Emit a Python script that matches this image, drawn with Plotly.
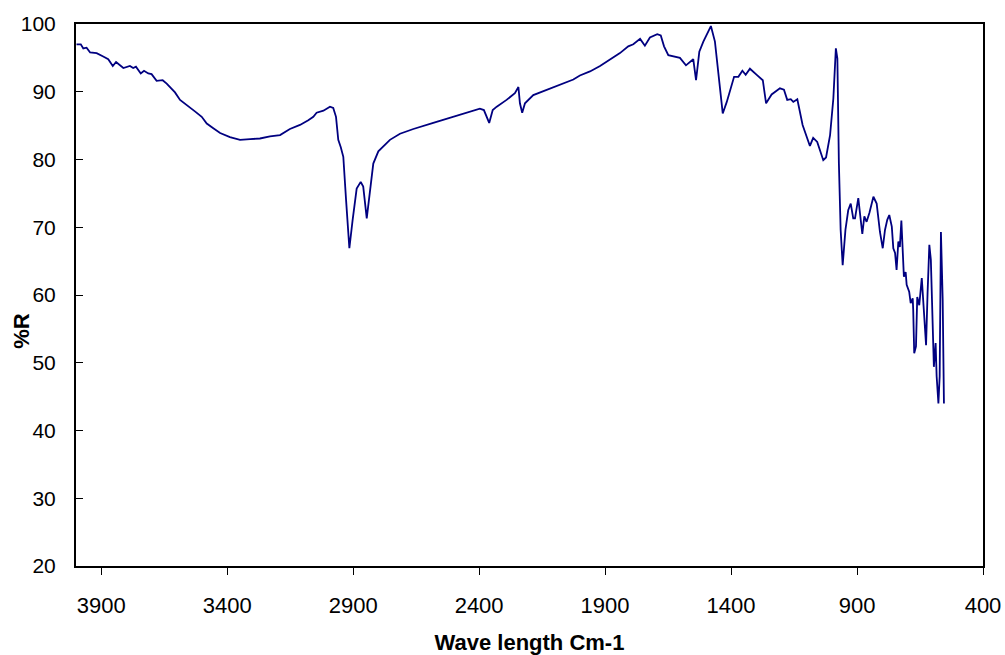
import plotly.graph_objects as go

# FTIR spectrum: wavenumber (cm-1) and reflectance (%R)
wavenumber = [
    3998, 3981, 3971, 3958, 3944, 3918, 3892, 3872, 3854, 3841,
    3812, 3786, 3773, 3762, 3743, 3730, 3713, 3700, 3680, 3656,
    3640, 3607, 3587, 3554, 3528, 3501, 3481, 3455, 3428, 3389,
    3349, 3309, 3270, 3230, 3190, 3151, 3111, 3078, 3058, 3045,
    3018, 2992, 2979, 2968, 2959, 2949, 2939, 2928, 2915, 2902,
    2886, 2870, 2860, 2846, 2833, 2820, 2800, 2780, 2754, 2714,
    2661, 2582, 2502, 2436, 2397, 2381, 2360, 2346, 2330, 2291,
    2258, 2244, 2238, 2229, 2218, 2185, 2106, 2026, 2000, 1960,
    1920, 1881, 1841, 1808, 1788, 1761, 1742, 1722, 1693, 1679,
    1666, 1649, 1623, 1603, 1579, 1563, 1550, 1539, 1526, 1510,
    1480, 1464, 1447, 1433, 1417, 1398, 1388, 1371, 1355, 1342,
    1325, 1298, 1274, 1261, 1239, 1206, 1190, 1177, 1163, 1153,
    1137, 1116, 1087, 1074, 1058, 1034, 1023, 1007, 994, 984,
    978, 972, 965, 957, 946, 935, 925, 915, 908, 895,
    879, 871, 862, 851, 835, 822, 809, 798, 789, 780,
    772, 762, 756, 749, 743, 736, 730, 724, 720, 714,
    707, 703, 693, 687, 679, 677, 673, 666, 661, 653,
    643, 637, 630, 626, 620, 613, 607, 601, 595, 588,
    584, 577, 572, 567, 560, 555,
]
reflectance = [
    97.0, 97.0, 96.4, 96.5, 95.8, 95.7, 95.2, 94.8, 93.8, 94.4,
    93.5, 93.8, 93.5, 93.7, 92.7, 93.1, 92.7, 92.6, 91.6, 91.7,
    91.2, 89.9, 88.8, 87.9, 87.1, 86.3, 85.3, 84.6, 83.9, 83.3,
    82.9, 83.0, 83.1, 83.4, 83.6, 84.5, 85.1, 85.8, 86.3, 86.9,
    87.2, 87.8, 87.6, 86.3, 82.9, 81.8, 80.4, 74.0, 66.9, 71.1,
    75.7, 76.7, 76.0, 71.3, 75.0, 79.4, 81.2, 82.0, 82.9, 83.8,
    84.5, 85.4, 86.3, 87.1, 87.5, 87.3, 85.4, 87.3, 87.8, 88.8,
    89.8, 90.7, 88.3, 86.9, 88.3, 89.5, 90.7, 91.8, 92.4, 93.0,
    93.8, 94.8, 95.7, 96.7, 97.0, 97.8, 96.8, 98.0, 98.5, 98.3,
    96.7, 95.4, 95.2, 95.0, 93.9, 94.4, 94.8, 91.7, 95.9, 97.4,
    99.7, 97.4, 92.0, 86.8, 88.5, 90.7, 92.2, 92.2, 93.1, 92.5,
    93.4, 92.5, 91.7, 88.3, 89.6, 90.5, 90.3, 88.8, 88.9, 88.5,
    88.9, 85.1, 82.0, 83.2, 82.6, 79.9, 80.3, 83.6, 89.0, 96.4,
    94.9, 79.4, 69.6, 64.4, 69.6, 72.5, 73.5, 71.3, 71.3, 74.3,
    69.0, 71.6, 70.8, 72.1, 74.5, 73.5, 69.3, 66.9, 69.6, 71.1,
    71.8, 70.1, 66.9, 66.2, 63.7, 67.9, 67.1, 71.0, 67.1, 62.7,
    63.4, 61.5, 60.5, 58.8, 59.5, 57.8, 51.4, 52.4, 59.7, 58.5,
    62.5, 59.3, 55.8, 52.6, 60.3, 67.4, 65.2, 54.8, 49.4, 52.9,
    48.0, 44.0, 48.0, 69.3, 59.3, 44.0,
]

x_ticks = [3900, 3400, 2900, 2400, 1900, 1400, 900, 400]
y_ticks = [20, 30, 40, 50, 60, 70, 80, 90, 100]

FONT = "Liberation Sans, Arial, sans-serif"

fig = go.Figure(
    go.Scatter(
        x=wavenumber,
        y=reflectance,
        mode="lines",
        line=dict(color="#000080", width=1.8),
        hoverinfo="x+y",
    )
)

fig.update_layout(
    width=1005,
    height=655,
    margin=dict(l=76, r=22, t=24, b=89),
    paper_bgcolor="white",
    plot_bgcolor="white",
    showlegend=False,
    font=dict(family=FONT, color="black", size=21),
)

fig.update_xaxes(
    range=[4000, 400],
    tickvals=x_ticks,
    ticktext=[str(v) for v in x_ticks],
    ticks="outside",
    ticklen=7,
    tickwidth=1,
    tickcolor="black",
    ticklabelstandoff=12,
    tickfont=dict(family=FONT, size=22),
    showline=True,
    linecolor="black",
    linewidth=2,
    mirror=True,
    showgrid=False,
    zeroline=False,
    automargin=False,
    title=dict(
        text="<b>Wave length Cm-1</b>",
        font=dict(family=FONT, size=22),
        standoff=18,
    ),
)

fig.update_yaxes(
    range=[20, 100],
    tickvals=y_ticks,
    ticks="inside",
    ticklen=7,
    tickwidth=1,
    tickcolor="black",
    ticklabelstandoff=14,
    tickfont=dict(family=FONT, size=21),
    showline=True,
    linecolor="black",
    linewidth=2,
    mirror=True,
    showgrid=False,
    zeroline=False,
    automargin=False,
)

# Y-axis caption, placed a little below the axis midpoint
fig.add_annotation(
    text="<b>%R</b>",
    xref="paper",
    yref="paper",
    x=-0.0595,
    y=0.434,
    xanchor="center",
    yanchor="middle",
    textangle=-90,
    showarrow=False,
    font=dict(family=FONT, size=22, color="black"),
)

fig.write_html("out.html")
